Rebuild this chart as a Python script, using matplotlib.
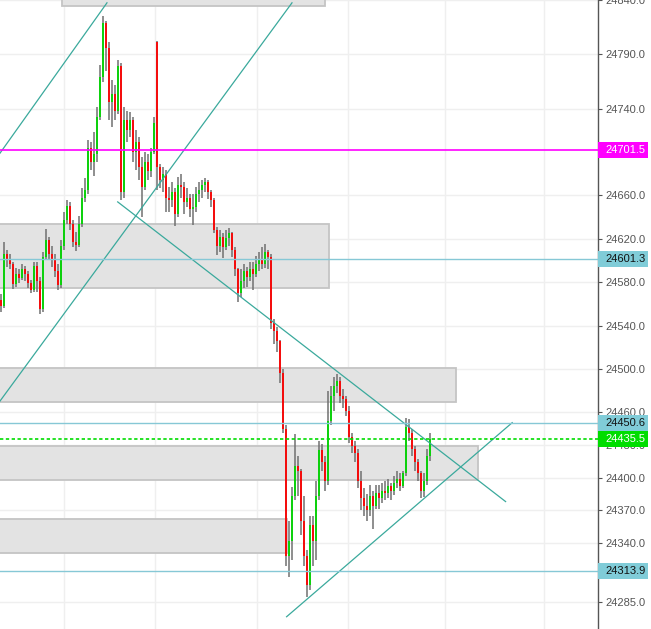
import numpy as np
import matplotlib
matplotlib.use('Agg')
import matplotlib.pyplot as plt
from matplotlib.patches import Rectangle
import matplotlib.transforms as mtransforms

plt.rcParams['font.family'] = ['Liberation Sans', 'DejaVu Sans']

# candle data (one candle per index)
opens = [24564, 24558, 24606, 24601, 24597, 24578, 24588, 24584, 24592, 24588,
         24579, 24573, 24595, 24581, 24555, 24603, 24619, 24606, 24601, 24590,
         24577, 24613, 24637, 24650, 24634, 24617, 24614, 24634, 24658, 24665,
         24704, 24691, 24698, 24732, 24769, 24819, 24796, 24746, 24753, 24738,
         24779, 24663, 24729, 24720, 24729, 24700, 24709, 24686, 24668, 24691,
         24682, 24700, 24801, 24686, 24674, 24680, 24658, 24656, 24663, 24643,
         24670, 24668, 24654, 24658, 24647, 24649, 24661, 24665, 24670, 24672,
         24663, 24656, 24628, 24613, 24622, 24612, 24621, 24625, 24610, 24592,
         24570, 24581, 24590, 24585, 24592, 24588, 24597, 24601, 24597, 24608,
         24603, 24542, 24535, 24526, 24496, 24445, 24328, 24342, 24383, 24411,
         24406, 24360, 24328, 24301, 24356, 24342, 24383, 24425, 24414, 24397,
         24452, 24475, 24484, 24489, 24475, 24472, 24461, 24437, 24429, 24423,
         24397, 24381, 24374, 24370, 24383, 24374, 24386, 24381, 24388, 24386,
         24392, 24388, 24395, 24399, 24392, 24404, 24447, 24441, 24426, 24414,
         24404, 24388, 24397, 24420]
highs = [24569, 24617, 24610, 24606, 24599, 24593, 24592, 24597, 24595, 24590,
         24582, 24599, 24599, 24585, 24608, 24629, 24622, 24613, 24606, 24597,
         24619, 24645, 24656, 24654, 24637, 24626, 24641, 24667, 24676, 24711,
         24709, 24718, 24741, 24780, 24825, 24821, 24801, 24766, 24762, 24785,
         24782, 24741, 24738, 24737, 24732, 24720, 24714, 24695, 24700, 24698,
         24704, 24732, 24802, 24689, 24686, 24683, 24668, 24672, 24667, 24677,
         24680, 24672, 24667, 24661, 24661, 24668, 24672, 24674, 24676, 24674,
         24665, 24658, 24631, 24628, 24625, 24628, 24630, 24626, 24612, 24593,
         24592, 24597, 24594, 24599, 24599, 24604, 24608, 24612, 24615, 24610,
         24606, 24546, 24539, 24527, 24500, 24448, 24360, 24391, 24440, 24420,
         24408, 24383, 24333, 24365, 24365, 24397, 24434, 24431, 24420, 24480,
         24484, 24493, 24495, 24493, 24482, 24475, 24466, 24441, 24434, 24426,
         24406, 24390, 24385, 24393, 24388, 24393, 24393, 24395, 24397, 24399,
         24395, 24401, 24406, 24404, 24406, 24455, 24454, 24445, 24429, 24417,
         24406, 24404, 24426, 24441]
lows = [24553, 24556, 24594, 24592, 24574, 24576, 24579, 24582, 24581, 24575,
        24570, 24571, 24571, 24551, 24553, 24601, 24601, 24594, 24585, 24573,
        24575, 24610, 24634, 24628, 24612, 24609, 24612, 24631, 24654, 24661,
        24683, 24678, 24691, 24729, 24764, 24775, 24729, 24723, 24729, 24735,
        24656, 24658, 24709, 24714, 24691, 24683, 24674, 24640, 24665, 24674,
        24677, 24698, 24665, 24667, 24663, 24645, 24645, 24649, 24632, 24640,
        24658, 24643, 24649, 24640, 24633, 24645, 24654, 24658, 24663, 24657,
        24649, 24625, 24605, 24608, 24602, 24610, 24613, 24603, 24586, 24562,
        24566, 24575, 24576, 24581, 24573, 24585, 24590, 24592, 24593, 24592,
        24537, 24523, 24516, 24487, 24441, 24319, 24308, 24324, 24379, 24383,
        24347, 24319, 24290, 24296, 24319, 24324, 24379, 24406, 24388, 24393,
        24448, 24461, 24478, 24469, 24464, 24457, 24432, 24423, 24414, 24390,
        24370, 24365, 24360, 24365, 24353, 24371, 24371, 24377, 24379, 24381,
        24379, 24384, 24390, 24388, 24390, 24401, 24434, 24420, 24406, 24397,
        24381, 24382, 24393, 24415]
closes = [24558, 24606, 24601, 24597, 24578, 24588, 24584, 24592, 24588, 24579,
          24573, 24595, 24581, 24555, 24603, 24619, 24606, 24601, 24590, 24577,
          24613, 24637, 24650, 24634, 24617, 24614, 24634, 24658, 24665, 24704,
          24691, 24698, 24732, 24769, 24819, 24796, 24746, 24753, 24738, 24779,
          24663, 24729, 24720, 24729, 24700, 24709, 24686, 24668, 24691, 24682,
          24700, 24727, 24686, 24674, 24680, 24658, 24656, 24663, 24643, 24670,
          24668, 24654, 24658, 24647, 24649, 24661, 24665, 24670, 24672, 24663,
          24656, 24628, 24613, 24622, 24612, 24621, 24625, 24610, 24592, 24570,
          24581, 24590, 24585, 24592, 24588, 24597, 24601, 24597, 24608, 24603,
          24542, 24535, 24526, 24496, 24445, 24328, 24342, 24383, 24411, 24406,
          24360, 24328, 24301, 24356, 24342, 24383, 24425, 24414, 24397, 24452,
          24475, 24484, 24489, 24475, 24472, 24461, 24437, 24429, 24423, 24397,
          24381, 24374, 24370, 24383, 24374, 24386, 24381, 24388, 24386, 24392,
          24388, 24395, 24399, 24392, 24404, 24447, 24441, 24426, 24414, 24404,
          24388, 24397, 24420, 24435.5]

# supply/demand zones: (x_start, x_end, price_low, price_high)
zones = [(20.3, 108.0, 24834.4, 24880.0),
         (-5, 109.4, 24575.1, 24633.5),
         (-5, 151.6, 24469.3, 24500.5),
         (-5, 159.1, 24397.8, 24429.2),
         (-5, 95.3, 24330.8, 24362.0)]

# trend lines: ((x0, p0), (x1, p1))
trend_lines = [((-0.33, 24698.9), (35.33, 24837.4)),
               ((-0.33, 24470.5), (97.0, 24837.4)),
               ((38.9, 24654.0), (168.2, 24377.9)),
               ((95.2, 24271.8), (170.4, 24450.6))]

# horizontal levels: (price, line colour, style, label bg, label text colour)
levels = [(24701.5, '#ff00ff', '-', '#ff00ff', 'white'),
          (24601.3, '#86c8d6', '-', '#80ccd8', '#111111'),
          (24450.6, '#86c8d6', '-', '#80ccd8', '#111111'),
          (24435.5, '#00dd00', ':', '#00dd00', 'white'),
          (24313.9, '#86c8d6', '-', '#80ccd8', '#111111')]

y_ticks = [24840, 24790, 24740, 24660, 24620, 24580, 24540, 24500,
           24460, 24430, 24400, 24370, 24340, 24285]
x_grid = [21, 51.3, 85.3, 115.7, 148, 181]

fig = plt.figure(figsize=(6.51, 6.29), dpi=100)
ax = fig.add_axes([0, 0, 598 / 651, 1])
ax.set_xlim(-0.33, 199)
ax.set_ylim(24260.5, 24837.4)

for x in x_grid:
    ax.axvline(x, color='#efefef', lw=1, zorder=0)
for y in y_ticks:
    ax.axhline(y, color='#efefef', lw=1, zorder=0)

for x0, x1, p0, p1 in zones:
    ax.add_patch(Rectangle((x0, p0), x1 - x0, p1 - p0, facecolor='#e3e3e3',
                           edgecolor='#c4c4c4', lw=1.3, zorder=1))

idx = np.arange(len(closes))
o = np.array(opens, dtype=float)
c = np.array(closes, dtype=float)
ax.vlines(idx, lows, highs, color='#707070', lw=1.1, zorder=3)
up = c >= o
ax.vlines(idx[up], o[up], c[up], color='#00d800', lw=1.3, zorder=3.5)
ax.vlines(idx[~up], o[~up], c[~up], color='#ff0000', lw=1.3, zorder=3.5)

for (x0, p0), (x1, p1) in trend_lines:
    ax.plot([x0, x1], [p0, p1], color='#3aa99c', lw=0.9, zorder=4)

trans = mtransforms.blended_transform_factory(ax.transAxes, ax.transData)
for price, col, ls, bg, tc in levels:
    if ls == ':':
        ax.axhline(price, color=col, lw=1.2, ls=(0, (2, 1.5)), zorder=5)
    else:
        ax.axhline(price, color=col, lw=1.2 if col == '#ff00ff' else 1.0, zorder=5)
    h = 16 / 1.0903
    ax.add_patch(Rectangle((1.0, price - h / 2), 0.0836, h, transform=trans,
                           facecolor=bg, edgecolor='none', clip_on=False, zorder=10))
    ax.text(1.0125, price, '%.1f' % price, transform=trans, color=tc,
            fontsize=8, va='center', ha='left', clip_on=False, zorder=11)

ax.yaxis.tick_right()
ax.set_yticks(y_ticks)
ax.set_yticklabels(['%.1f' % v for v in y_ticks])
ax.tick_params(axis='y', colors='#555555', labelsize=8, length=2.9, width=0.8, pad=2.7)
ax.set_xticks([])
for s in ['top', 'bottom', 'left']:
    ax.spines[s].set_visible(False)
ax.spines['right'].set_color('#555555')
ax.spines['right'].set_linewidth(1.0)

fig.savefig('out.png', dpi=100)
